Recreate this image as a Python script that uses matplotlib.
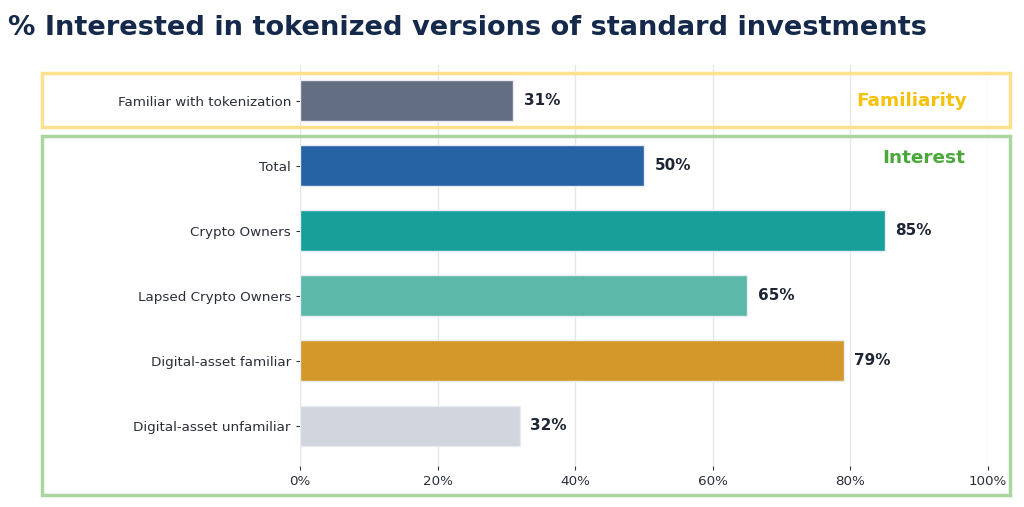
import matplotlib.pyplot as plt
from matplotlib.patches import Rectangle

# data
categories = ['Familiar with tokenization', 'Total', 'Crypto Owners',
              'Lapsed Crypto Owners', 'Digital-asset familiar', 'Digital-asset unfamiliar']
values = [31, 50, 85, 65, 79, 32]
colors = ['#636e82', '#2563a5', '#17a09a', '#5cb8a8', '#d4982a', '#d0d5de']
xticks = [0, 20, 40, 60, 80, 100]

fig = plt.figure(figsize=(10.24, 5.07), dpi=100)
ax = fig.add_axes([300 / 1024, 1 - 466 / 507, 688 / 1024, 401 / 507])

ypos = list(range(len(categories)))
ax.barh(ypos, values, height=0.63, color=colors, edgecolor='#e8ecf2', linewidth=1, zorder=3)

for y, v in zip(ypos, values):
    ax.text(v + 1.5, y, f'{v}%', va='center', ha='left', fontsize=11,
            fontweight='bold', color='#1e2535')

ax.set_yticks(ypos)
ax.set_yticklabels(categories, fontsize=9.7, color='#2b2f3a')
ax.set_xticks(xticks)
ax.set_xticklabels([f'{t}%' for t in xticks], fontsize=9.7, color='#2b2f3a')
ax.set_xlim(0, 100)
ax.set_ylim(5.615, -0.55)
ax.grid(axis='x', color='#e6e6e6', linewidth=1, zorder=0)
ax.tick_params(axis='both', length=3, color='#333333')
for s in ax.spines.values():
    s.set_visible(False)

# group boxes
fig.patches.append(Rectangle((42 / 1024, 1 - 127 / 507), 968 / 1024, 54 / 507,
                             transform=fig.transFigure, fill=False,
                             edgecolor='#ffe08c', linewidth=2.5, zorder=5))
fig.patches.append(Rectangle((42 / 1024, 1 - 495 / 507), 968 / 1024, 359 / 507,
                             transform=fig.transFigure, fill=False,
                             edgecolor='#a9d69e', linewidth=2.5, zorder=5))
fig.text(967 / 1024, 1 - 101 / 507, 'Familiarity', ha='right', va='center',
         fontsize=13.3, fontweight='bold', color='#f5c10a')
fig.text(965 / 1024, 1 - 158 / 507, 'Interest', ha='right', va='center',
         fontsize=13.3, fontweight='bold', color='#4aa83a')

fig.text(8 / 1024, 1 - 28 / 507, '% Interested in tokenized versions of standard investments',
         ha='left', va='center', fontsize=19.6, fontweight='bold', color='#15294a')

fig.savefig('out.png', dpi=100)
